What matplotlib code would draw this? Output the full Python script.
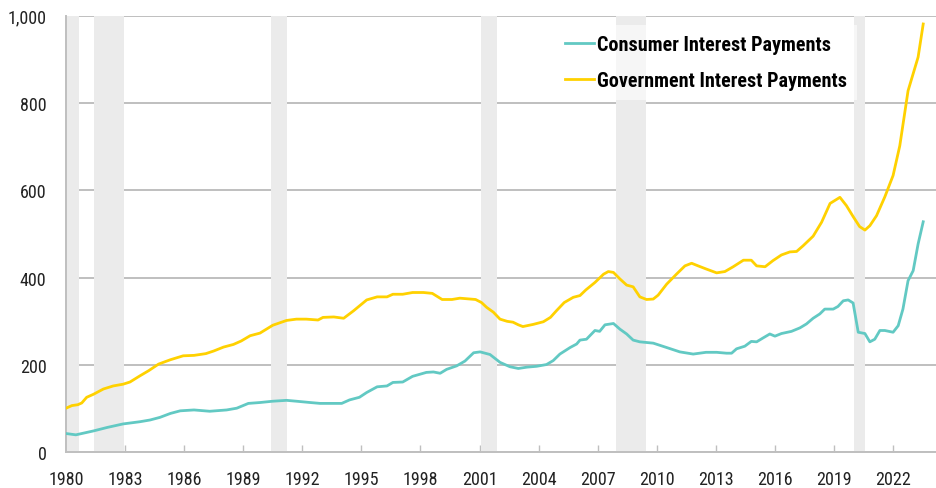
import matplotlib
matplotlib.use("Agg")
import matplotlib.pyplot as plt
from matplotlib import font_manager
from matplotlib.ticker import StrMethodFormatter

# quarterly-ish readings, billions of dollars
gov_years = [1980.0, 1980.3, 1980.6, 1980.8, 1981.05, 1981.4, 1981.9, 1982.4, 1982.9,
             1983.25, 1983.75, 1984.2, 1984.7, 1985.3, 1985.95, 1986.5, 1987.1, 1987.5,
             1988.0, 1988.5, 1988.9, 1989.35, 1989.85, 1990.5, 1991.2, 1991.7, 1992.2,
             1992.8, 1993.05, 1993.6, 1994.1, 1994.6, 1995.27, 1995.8, 1996.3, 1996.6,
             1997.1, 1997.6, 1998.15, 1998.6, 1999.1, 1999.6, 2000.0, 2000.8, 2001.1,
             2001.36, 2001.7, 2002.04, 2002.4, 2002.7, 2002.97, 2003.2, 2003.73, 2004.24,
             2004.6, 2004.9, 2005.3, 2005.76, 2006.1, 2006.4, 2006.86, 2007.3, 2007.54,
             2007.8, 2008.13, 2008.47, 2008.8, 2009.14, 2009.48, 2009.82, 2010.07, 2010.5,
             2011.0, 2011.43, 2011.77, 2012.1, 2012.5, 2013.04, 2013.46, 2013.88, 2014.4,
             2014.8, 2015.07, 2015.5, 2015.9, 2016.33, 2016.76, 2017.1, 2017.43, 2017.94,
             2018.37, 2018.8, 2019.3, 2019.63, 2019.97, 2020.3, 2020.57, 2020.82, 2021.16,
             2021.58, 2022.0, 2022.34, 2022.76, 2023.27, 2023.53]
gov_values = [101, 107, 109, 113, 126, 133, 145, 152, 156,
              161, 175, 187, 202, 212, 221, 222, 226, 232,
              241, 247, 255, 267, 273, 291, 302, 305, 305,
              303, 309, 310, 307, 324, 349, 356, 356, 362,
              362, 366, 366, 364, 350, 350, 353, 350, 343,
              332, 321, 305, 300, 298, 292, 288, 293, 299,
              309, 324, 343, 355, 359, 372, 389, 408, 414,
              412, 397, 383, 379, 356, 350, 351, 360, 385,
              408, 427, 433, 427, 420, 411, 414, 425, 440,
              440, 427, 425, 439, 452, 459, 460, 473, 495,
              527, 570, 584, 565, 540, 517, 509, 519, 542,
              585, 634, 702, 828, 905, 981]

con_years = [1980.0, 1980.5, 1980.9, 1981.4, 1982.1, 1982.9, 1983.75, 1984.27, 1984.77,
             1985.3, 1985.8, 1986.5, 1987.3, 1988.16, 1988.67, 1989.26, 1989.85, 1990.5,
             1991.2, 1991.7, 1992.4, 1992.9, 1993.6, 1994.0, 1994.4, 1994.9, 1995.27,
             1995.8, 1996.3, 1996.6, 1997.1, 1997.6, 1998.3, 1998.66, 1999.0, 1999.33,
             1999.84, 2000.26, 2000.7, 2001.03, 2001.53, 2002.04, 2002.54, 2002.97, 2003.4,
             2003.9, 2004.4, 2004.74, 2005.08, 2005.6, 2005.93, 2006.1, 2006.43, 2006.86,
             2007.1, 2007.37, 2007.8, 2008.13, 2008.47, 2008.8, 2009.14, 2009.82, 2010.5,
             2011.17, 2011.85, 2012.5, 2013.04, 2013.54, 2013.8, 2014.05, 2014.47, 2014.8,
             2015.07, 2015.4, 2015.74, 2016.0, 2016.33, 2016.84, 2017.27, 2017.6, 2017.94,
             2018.28, 2018.53, 2018.96, 2019.2, 2019.47, 2019.72, 2019.97, 2020.23, 2020.57,
             2020.82, 2021.07, 2021.33, 2021.58, 2022.0, 2022.26, 2022.5, 2022.76, 2023.02,
             2023.27, 2023.53]
con_values = [43, 40, 44, 49, 57, 65, 70, 74, 80,
              89, 95, 97, 94, 97, 101, 112, 114, 117,
              119, 117, 114, 112, 112, 112, 120, 126, 137,
              150, 152, 160, 161, 174, 183, 184, 181, 190,
              198, 209, 228, 230, 224, 206, 196, 192, 195,
              197, 201, 210, 225, 240, 248, 257, 259, 279,
              277, 292, 295, 282, 271, 257, 253, 250, 240,
              230, 225, 229, 229, 227, 227, 237, 243, 254,
              253, 262, 271, 266, 272, 277, 285, 294, 307,
              317, 328, 328, 334, 347, 349, 342, 275, 272,
              253, 259, 279, 279, 275, 290, 328, 393, 416,
              477, 528]

recessions = [(1980.0, 1980.65), (1981.4, 1982.93), (1990.4, 1991.2),
              (2001.05, 2001.9), (2007.93, 2009.45), (2020.0, 2020.55)]

tick_years = list(range(1980, 2023, 3))

# pick a narrow face if one is around, otherwise condensed DejaVu
names = {f.name for f in font_manager.fontManager.ttflist}
narrow = [n for n in ['Liberation Sans Narrow', 'Roboto Condensed', 'Open Sans Condensed',
                      'Noto Sans Condensed', 'DejaVu Sans Condensed'] if n in names]
plt.rcParams['font.family'] = narrow + ['DejaVu Sans']
if not narrow:
    plt.rcParams['font.stretch'] = 'condensed'

fig = plt.figure(figsize=(9.37, 4.89), dpi=100)
ax = fig.add_axes([66 / 937, 35.7 / 489, 1 - 66 / 937, 436.6 / 489])

for start, end in recessions:
    ax.axvspan(start, end, color='#ebebeb', lw=0, zorder=1)

ax.plot(con_years, con_values, color='#62C9C3', lw=2, zorder=3,
        label='Consumer Interest Payments')
ax.plot(gov_years, gov_values, color='#FFD100', lw=2, zorder=3,
        label='Government Interest Payments')

ax.set_xlim(1980, 2024.23)
ax.set_ylim(0, 1000)
ax.set_yticks(range(0, 1001, 200))
ax.yaxis.set_major_formatter(StrMethodFormatter('{x:,.0f}'))
ax.set_xticks(tick_years)
ax.set_xticklabels([str(y) for y in tick_years])

ax.set_axisbelow(True)
ax.grid(axis='y', color='#bfbfbf', lw=1.4)
ax.tick_params(axis='y', length=0, pad=14, labelsize=13, colors='#222222')
ax.tick_params(axis='x', direction='in', length=5, width=1, color='#bfbfbf',
               pad=13, labelsize=13, labelcolor='#222222')
for side in ['top', 'right']:
    ax.spines[side].set_visible(False)
for side in ['left', 'bottom']:
    ax.spines[side].set_color('#bfbfbf')
    ax.spines[side].set_linewidth(1.4)

leg = ax.legend(loc='upper left', bbox_to_anchor=(545 / 937, 1 - 16 / 489),
                bbox_transform=fig.transFigure, frameon=True, fancybox=False,
                handlelength=1.45, handletextpad=0.15, labelspacing=0.85,
                borderpad=0.5, prop={'weight': 'bold', 'size': 14.5})
leg.get_frame().set_facecolor('white')
leg.get_frame().set_alpha(0.6)
leg.get_frame().set_linewidth(0)

fig.savefig('out.png', dpi=100)
